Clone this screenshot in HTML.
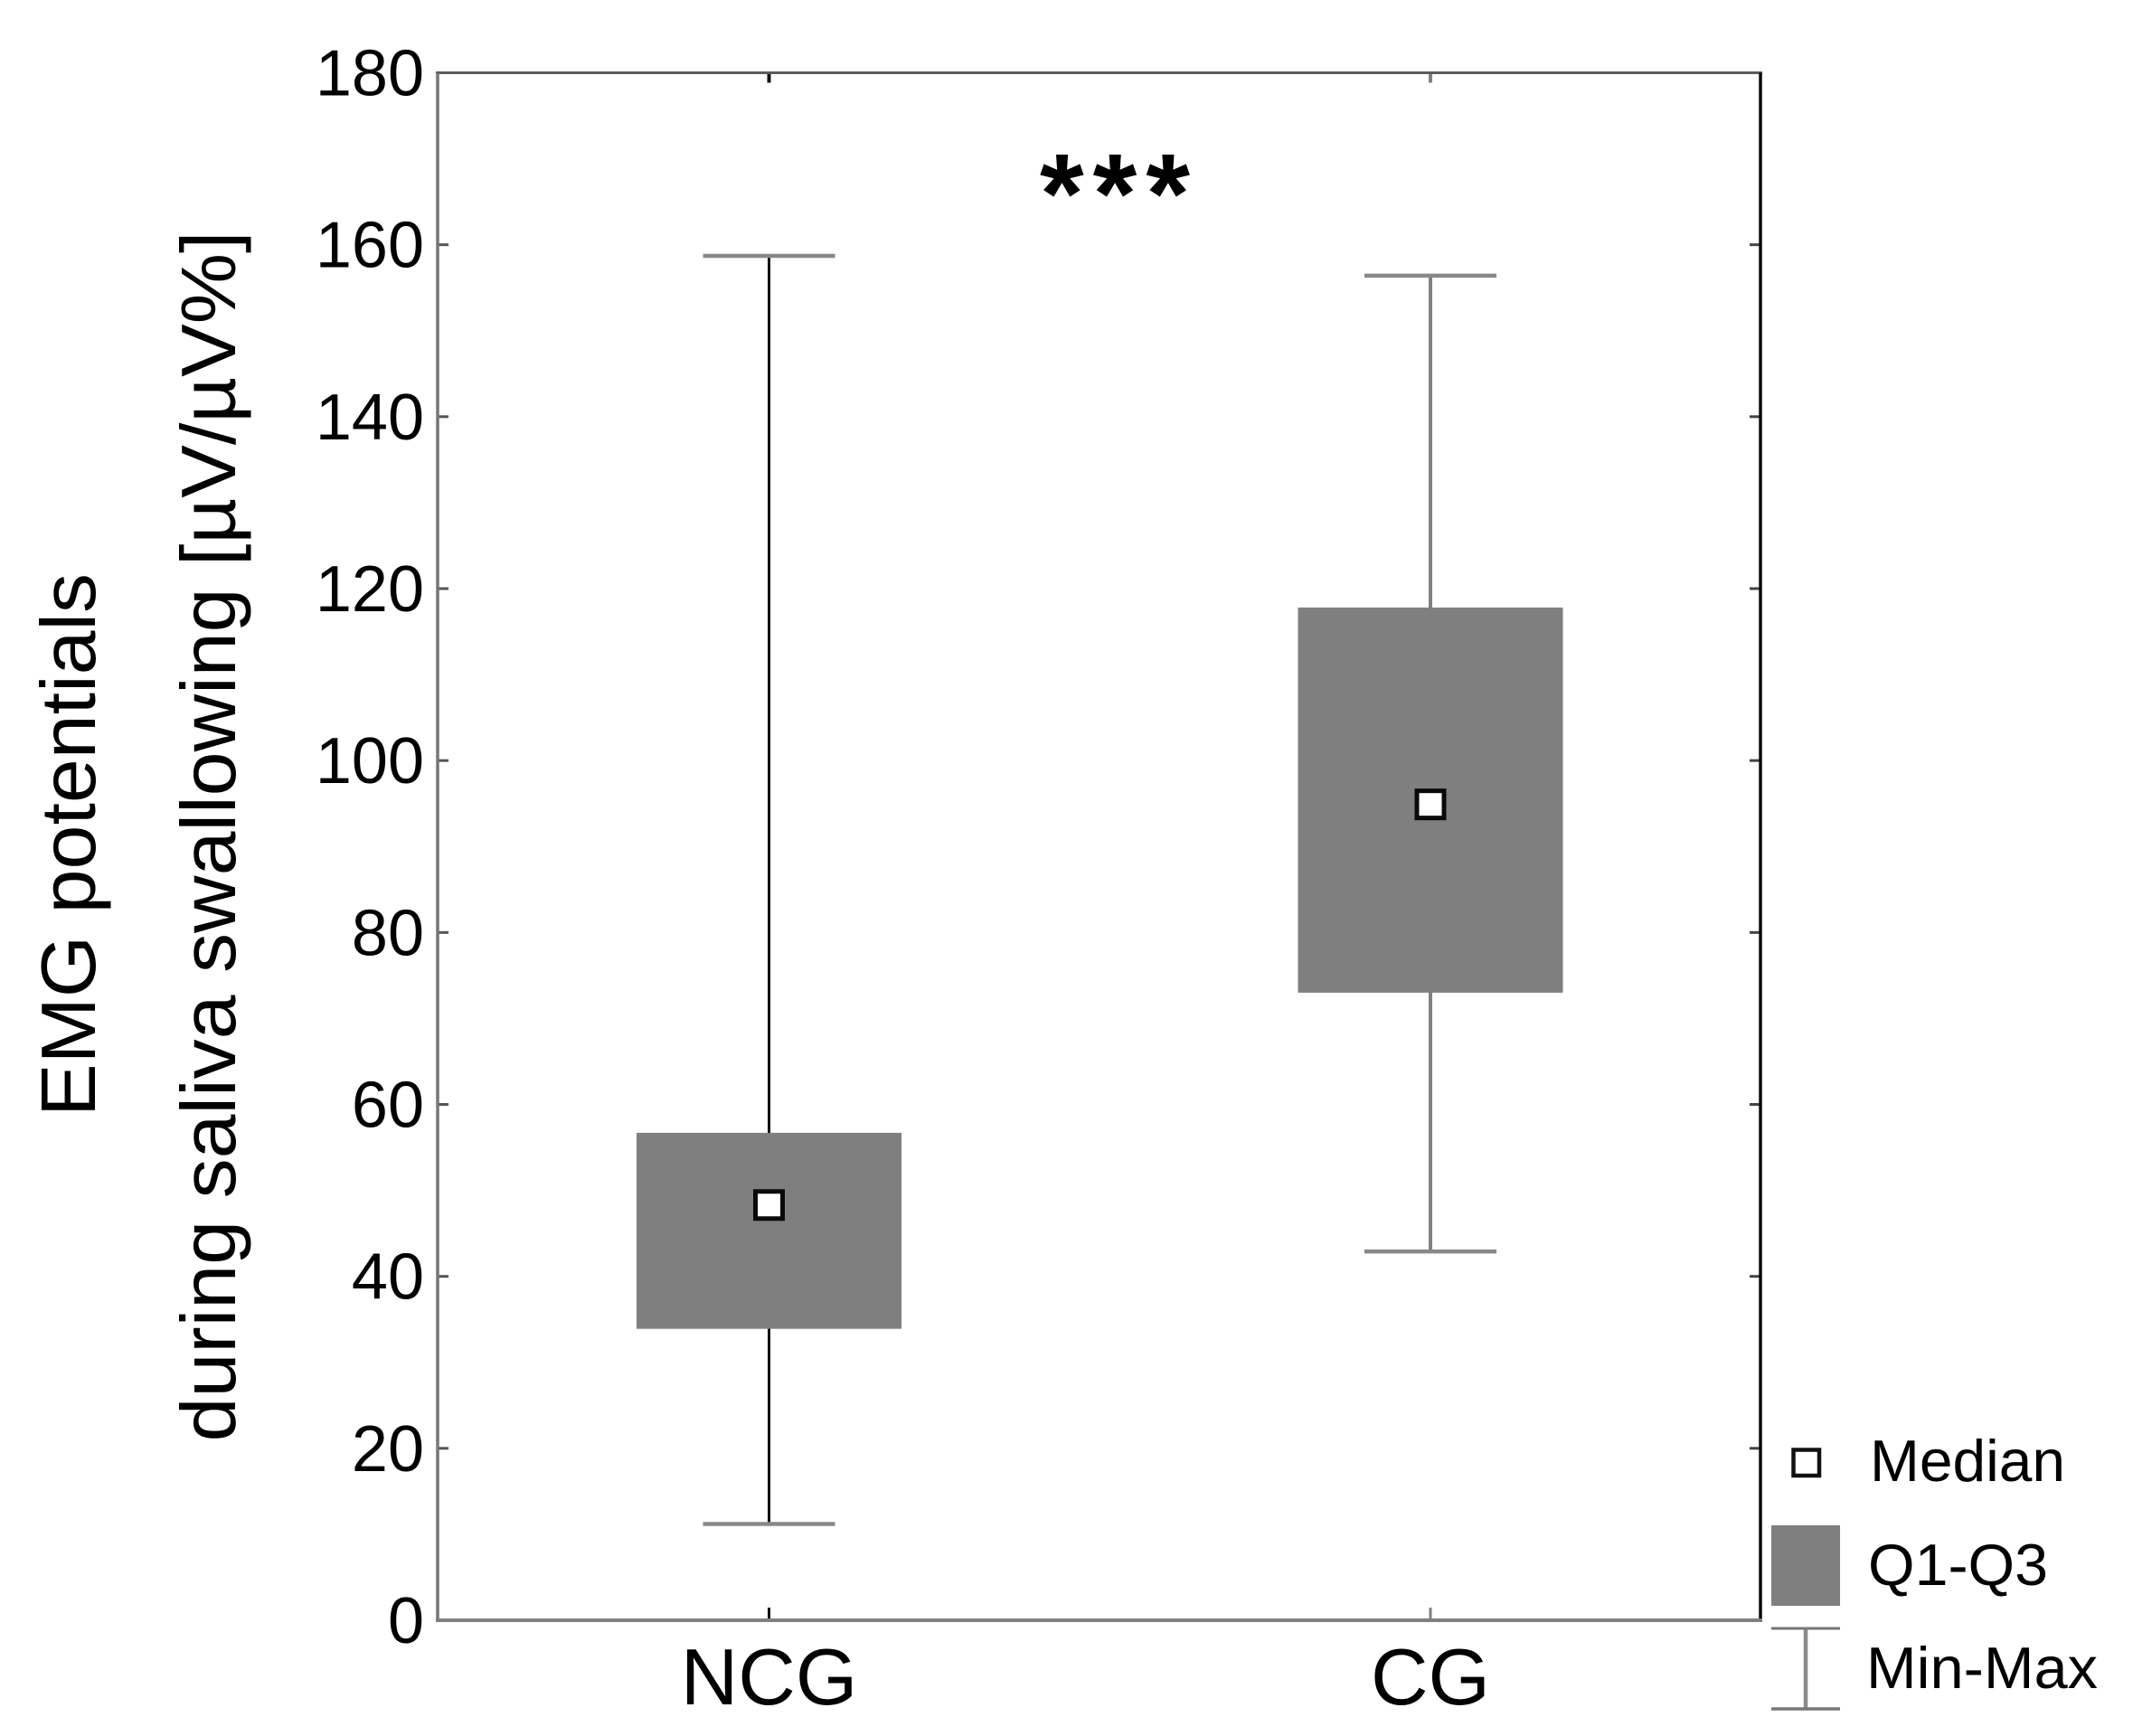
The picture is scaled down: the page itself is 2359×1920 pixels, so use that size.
<!DOCTYPE html>
<html>
<head>
<meta charset="utf-8">
<title>EMG potentials box plot</title>
<style>
html,body{margin:0;padding:0;background:#fff;width:2359px;height:1920px;overflow:hidden}
svg{display:block}
text{font-family:"Liberation Sans",Arial,sans-serif;fill:#000}
</style>
</head>
<body>
<svg id="chart" xmlns="http://www.w3.org/2000/svg" width="2359" height="1920" viewBox="0 0 2359 1920">
  <rect x="0" y="0" width="2359" height="1920" fill="#fff"/>
  <g id="marks"></g>
  <g id="axes"></g>
  <text x="1238" y="257.5" font-size="125" font-weight="bold" letter-spacing="10" text-anchor="middle">***</text>
  <text transform="translate(105,934.5) rotate(-90)" font-size="85" text-anchor="middle" textLength="601" lengthAdjust="spacingAndGlyphs">EMG potentials</text>
  <text transform="translate(260,925) rotate(-90)" font-size="85" text-anchor="middle" textLength="1339" lengthAdjust="spacingAndGlyphs">during saliva swallowing [µV/µV%]</text>
  <g>
    <rect x="1983.5" y="1603.5" width="28.5" height="28.5" fill="#fff" stroke="#111" stroke-width="4.5"/>
    <text x="2068" y="1638" font-size="65" textLength="216" lengthAdjust="spacingAndGlyphs">Median</text>
    <rect x="1959" y="1687" width="76" height="89" fill="#7f7f7f"/>
    <text x="2066" y="1753" font-size="65" textLength="199" lengthAdjust="spacingAndGlyphs">Q1-Q3</text>
    <line x1="1997" y1="1801" x2="1997" y2="1890" stroke="#8a8a8a" stroke-width="4.5"/>
    <line x1="1959" y1="1801" x2="2035" y2="1801" stroke="#777" stroke-width="3"/>
    <line x1="1959" y1="1890" x2="2035" y2="1890" stroke="#777" stroke-width="3.5"/>
    <text x="2064" y="1867" font-size="65" textLength="256" lengthAdjust="spacingAndGlyphs">Min-Max</text>
  </g>
</svg>
<script>
// ---- data ----
const categories = ['NCG', 'CG'];
const minValues = [11.2, 42.9];
const q1Values = [33.9, 73.0];
const medianValues = [48.3, 94.9];
const q3Values = [56.7, 117.8];
const maxValues = [158.7, 156.4];
const yTickLabels = [0, 20, 40, 60, 80, 100, 120, 140, 160, 180];
const whiskerColors = ['#111', '#808080'];

// ---- axis functions ----
const NS = 'http://www.w3.org/2000/svg';
const plotLeft = 484, plotRight = 1947, plotTop = 80.5, plotBottom = 1792;
const yMax = 180;
function yScale(v) { return plotBottom - (v / yMax) * (plotBottom - plotTop); }
const catFirst = 850.5, catStep = 731.5;
function xScale(i) { return catFirst + i * catStep; }
const boxHalf = 146.5, capHalf = 73, medHalf = 15;

function make(tag, parent, props, text) {
  const el = document.createElementNS(NS, tag);
  for (const k in props) el.setAttribute(k, props[k]);
  if (text !== undefined) el.textContent = text;
  parent.appendChild(el);
  return el;
}

const marks = document.getElementById('marks');
const axes = document.getElementById('axes');

// ---- boxes ----
categories.forEach(function (cat, i) {
  const key = cat.toLowerCase();
  const cx = xScale(i);

  const stem = make('line', marks, { x1: cx, x2: cx, y1: yScale(maxValues[i]), y2: yScale(minValues[i]), stroke: whiskerColors[i], 'stroke-width': i === 0 ? 3 : 4 });
  
  

  const capTop = make('line', marks, { x1: cx - capHalf, x2: cx + capHalf, y1: yScale(maxValues[i]), y2: yScale(maxValues[i]), stroke: '#888', 'stroke-width': 4.5 });
  
  

  const capBottom = make('line', marks, { x1: cx - capHalf, x2: cx + capHalf, y1: yScale(minValues[i]), y2: yScale(minValues[i]), stroke: '#888', 'stroke-width': 4.5 });
  
  

  const box = make('rect', marks, { x: cx - boxHalf, width: boxHalf * 2, y: yScale(q3Values[i]), height: yScale(q1Values[i]) - yScale(q3Values[i]), fill: '#7f7f7f' });
  
  

  const med = make('rect', marks, { x: cx - medHalf, y: yScale(medianValues[i]) - medHalf, width: medHalf * 2, height: medHalf * 2, fill: '#fff', stroke: '#0a0a0a', 'stroke-width': 5 });
  
  

  const tickB = make('line', axes, { x1: cx, x2: cx, y1: plotBottom, y2: plotBottom - 14, stroke: whiskerColors[i], 'stroke-width': 3 });
  
  

  const tickT = make('line', axes, { x1: cx, x2: cx, y1: plotTop, y2: plotTop + 11, stroke: whiskerColors[i], 'stroke-width': 4 });
  
  

  const lab = make('text', axes, { x: cx, y: 1885, 'font-size': 88, 'text-anchor': 'middle' }, cat);
  
  
});

// ---- y ticks ----
yTickLabels.forEach(function (v) {
  const y = yScale(v);
  if (v !== 0 && v !== yMax) {
    const tl = make('line', axes, { x1: plotLeft, x2: plotLeft + 12, y1: y, y2: y, stroke: '#555', 'stroke-width': 3 });
    
    
    const tr = make('line', axes, { x1: plotRight - 12, x2: plotRight, y1: y, y2: y, stroke: '#444', 'stroke-width': 3 });
    
    
  }
  const lab = make('text', axes, { x: 469, y: y + 25, 'font-size': 72, 'text-anchor': 'end' }, String(v));
  
  
});

// ---- frame ----
const frameTop = make('line', axes, { x1: plotLeft - 2, x2: plotRight + 2, y1: plotTop, y2: plotTop, stroke: '#5f5a5f', 'stroke-width': 3 });



const frameLeft = make('line', axes, { x1: plotLeft, x2: plotLeft, y1: plotTop, y2: plotBottom, stroke: '#777', 'stroke-width': 3.5 });



const frameRight = make('line', axes, { x1: plotRight, x2: plotRight, y1: plotTop, y2: plotBottom + 2, stroke: '#0a0a0a', 'stroke-width': 3.5 });



const frameBottom = make('line', axes, { x1: plotLeft - 2, x2: plotRight + 2, y1: plotBottom, y2: plotBottom, stroke: '#808080', 'stroke-width': 4 });


</script>
</body>
</html>
